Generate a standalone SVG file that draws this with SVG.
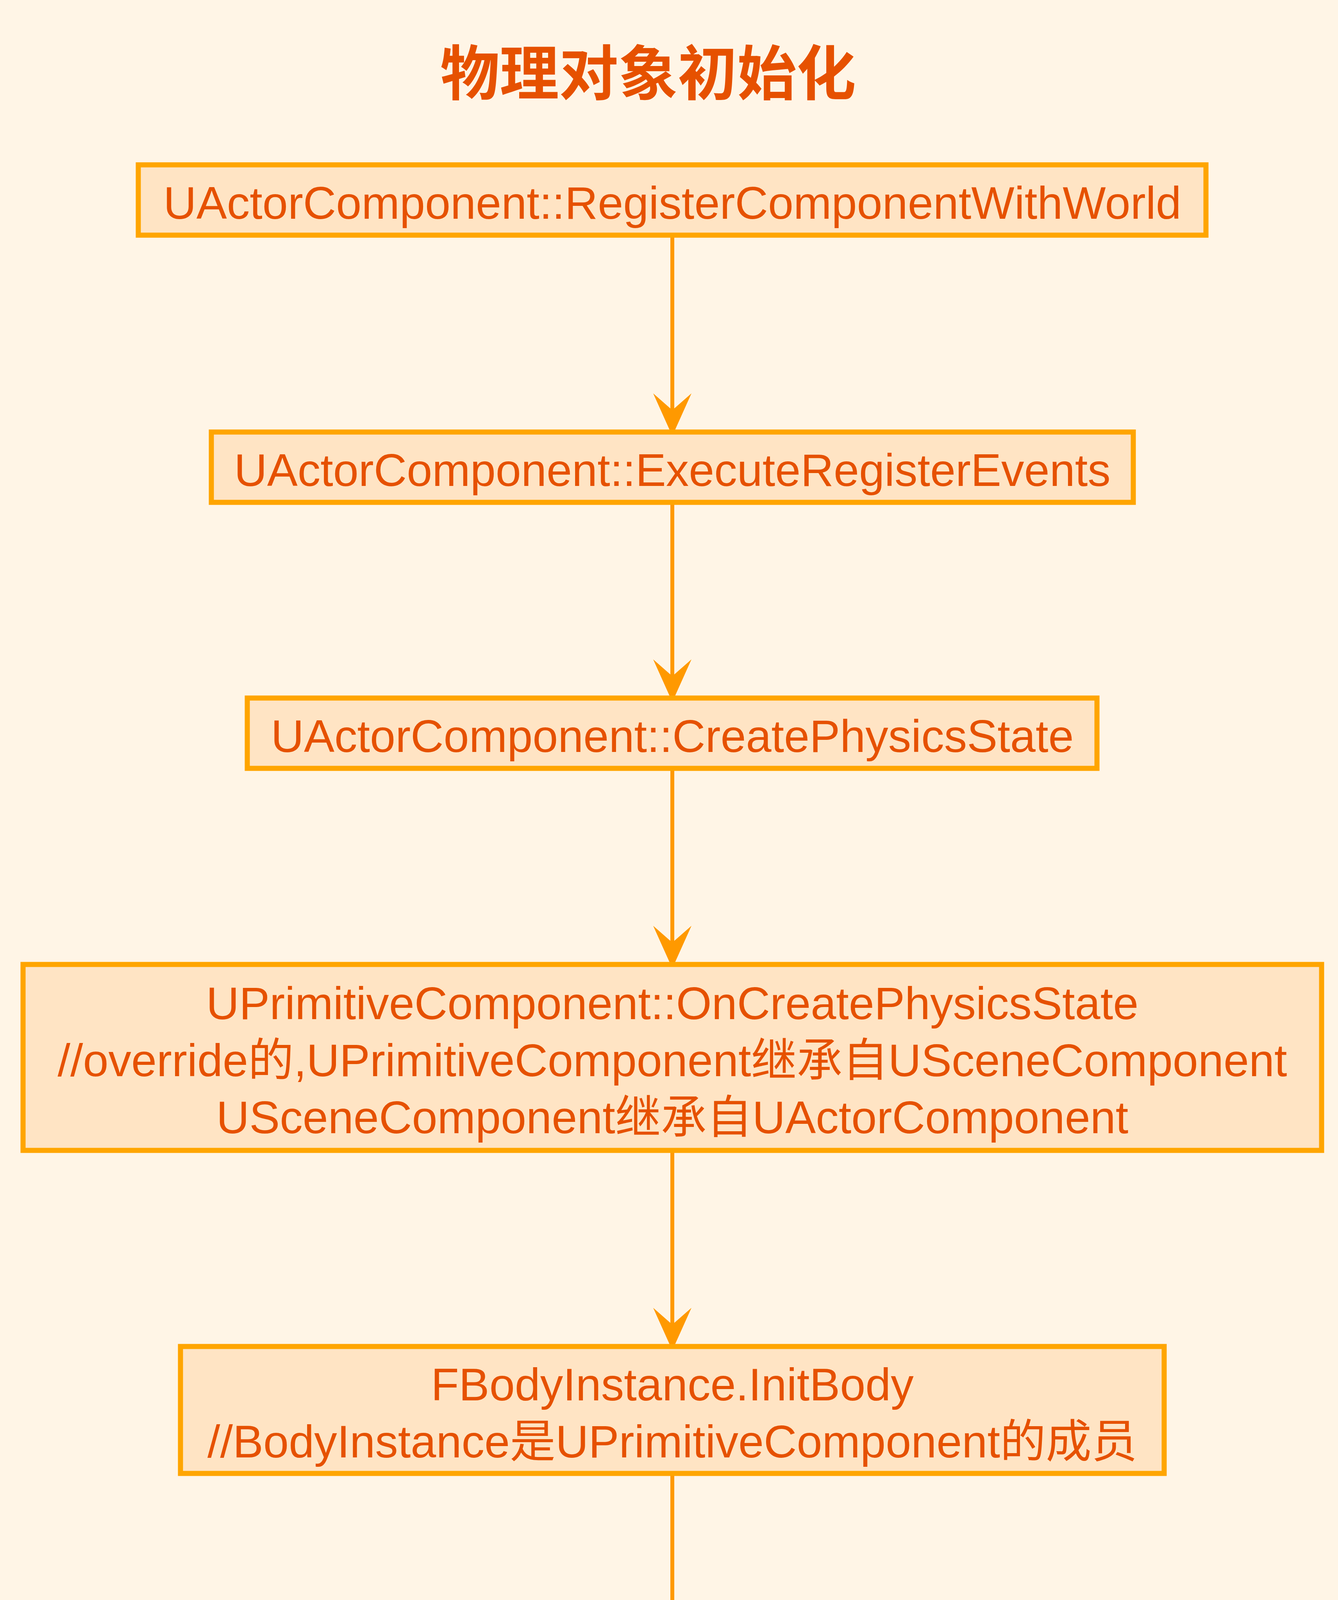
<svg xmlns="http://www.w3.org/2000/svg" width="3425" height="4502" viewBox="0 0 3425 4502">
<style>
.node rect{fill:#FFE4C4;stroke:#FFA500;stroke-width:13}
.node text{font-family:"Liberation Sans",Arial,"Noto Sans CJK SC",sans-serif;font-size:117px;fill:#E65100;text-anchor:middle}
.edge{stroke:#FF9900;stroke-width:10;fill:none}
.title{font-family:"Liberation Serif","Noto Sans CJK SC",serif;font-size:152px;font-weight:bold;fill:#E65100;text-anchor:middle}
</style>
<defs>
<marker id="arr" markerUnits="userSpaceOnUse" viewBox="-70 -50 112 100" markerWidth="112" markerHeight="100" refX="0" refY="0" orient="auto">
<path d="M40,0 L-69,-49 L-26,0 L-69,49 Z" fill="#FF9900"/>
</marker>
</defs>
<rect x="0" y="0" width="3425" height="4502" fill="#FFF5E6"/>
<text class="title" x="1659" y="243">物理对象初始化</text>
<g id="connectors">
<line class="edge" x1="1721" y1="608" x2="1721" y2="1076" marker-end="url(#arr)"/>
<line class="edge" x1="1721" y1="1292" x2="1721" y2="1757" marker-end="url(#arr)"/>
<line class="edge" x1="1721" y1="1973" x2="1721" y2="2439" marker-end="url(#arr)"/>
<line class="edge" x1="1721" y1="2951" x2="1721" y2="3417" marker-end="url(#arr)"/>
<line class="edge" x1="1721" y1="3778" x2="1721" y2="4241" marker-end="url(#arr)"/>
</g>
<g id="n1" class="node">
<rect x="354" y="422" width="2733" height="180"/>
<text x="1721" y="560">UActorComponent::RegisterComponentWithWorld</text>
</g>
<g id="n2" class="node">
<rect x="541" y="1106" width="2360" height="180"/>
<text x="1721" y="1244">UActorComponent::ExecuteRegisterEvents</text>
</g>
<g id="n3" class="node">
<rect x="633" y="1787" width="2175" height="180"/>
<text x="1721" y="1925">UActorComponent::CreatePhysicsState</text>
</g>
<g id="n4" class="node">
<rect x="59" y="2469" width="3324" height="476"/>
<text x="1721" y="2609">UPrimitiveComponent::OnCreatePhysicsState</text>
<text x="1721" y="2755">//override的,UPrimitiveComponent继承自USceneComponent</text>
<text x="1721" y="2901">USceneComponent继承自UActorComponent</text>
</g>
<g id="n5" class="node">
<rect x="462" y="3447" width="2518" height="325"/>
<text x="1721" y="3585">FBodyInstance.InitBody</text>
<text x="1721" y="3731">//BodyInstance是UPrimitiveComponent的成员</text>
</g>
<g id="n6" class="node">
<rect x="305" y="4271" width="2832" height="180"/>
<text x="1721" y="4409">TInitBodiesHelperBase&lt;InAllocatorType&gt;::InitBodies</text>
</g>
</svg>
